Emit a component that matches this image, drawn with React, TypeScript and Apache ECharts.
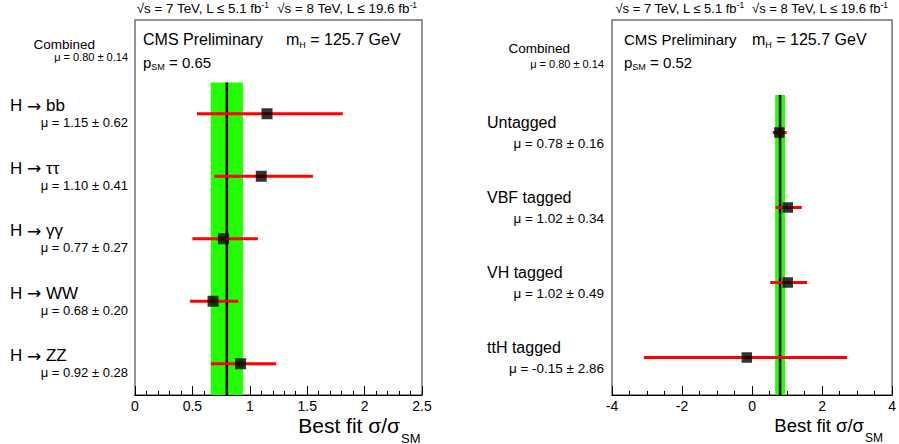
import React, { useEffect, useRef } from "react";
import * as echarts from "echarts";

// ---------- data ----------
const leftCategories = ["H → bb", "H → ττ", "H → γγ", "H → WW", "H → ZZ"];
const leftMu = [1.15, 1.1, 0.77, 0.68, 0.92];
const leftMuErr = [0.62, 0.41, 0.27, 0.2, 0.28];
const leftLow = [0.54, 0.69, 0.5, 0.48, 0.66];
const leftHigh = [1.81, 1.55, 1.07, 0.9, 1.23];
const leftRowY = [4.5, 3.5, 2.5, 1.5, 0.5];

const rightCategories = ["Untagged", "VBF tagged", "VH tagged", "ttH tagged"];
const rightMu = [0.78, 1.02, 1.02, -0.15];
const rightMuErr = [0.16, 0.34, 0.49, 2.86];
const rightLow = [0.59, 0.67, 0.52, -3.09];
const rightHigh = [0.99, 1.42, 1.57, 2.71];
const rightRowY = [3.5, 2.5, 1.5, 0.5];

const combinedMu = 0.8;
const combinedErr = 0.14;
const pSM = ["0.65", "0.52"];
const leftXRange = [0, 2.5, 0.5];
const rightXRange = [-4, 4, 2];

const FONT = "Liberation Sans";
const GREEN = "#22ff00";

const G_LEFT = { left: 135, top: 20, width: 287, height: 375 };
const G_RIGHT = { left: 612, top: 20, width: 286, height: 375 };

function muText(m: number, e: number) {
  return `μ = ${m.toFixed(2)} ± ${e.toFixed(2)}`;
}

function bandSeries(xi: number, top: number) {
  return {
    type: "custom",
    xAxisIndex: xi,
    yAxisIndex: xi,
    silent: true,
    encode: { x: [0, 1], y: [2, 3] },
    data: [[combinedMu - combinedErr, combinedMu + combinedErr, 0, top, combinedMu]],
    renderItem: (params: any, api: any) => {
      const a = api.coord([api.value(0), api.value(3)]);
      const b = api.coord([api.value(1), api.value(2)]);
      const c0 = api.coord([api.value(4), api.value(2)]);
      const c1 = api.coord([api.value(4), api.value(3)]);
      return {
        type: "group",
        children: [
          { type: "rect", shape: { x: a[0], y: a[1], width: b[0] - a[0], height: b[1] - a[1] }, style: { fill: GREEN } },
          { type: "line", shape: { x1: c0[0], y1: c0[1], x2: c1[0], y2: c1[1] }, style: { stroke: "#000", lineWidth: 2.5 } },
        ],
      };
    },
  };
}

function errSeries(xi: number, lo: number[], hi: number[], ys: number[]) {
  return {
    type: "custom",
    xAxisIndex: xi,
    yAxisIndex: xi,
    silent: true,
    encode: { x: [0, 1], y: 2 },
    data: lo.map((l, i) => [l, hi[i], ys[i]]),
    renderItem: (params: any, api: any) => {
      const a = api.coord([api.value(0), api.value(2)]);
      const b = api.coord([api.value(1), api.value(2)]);
      return { type: "line", shape: { x1: a[0], y1: a[1], x2: b[0], y2: b[1] }, style: { stroke: "#ff0000", lineWidth: 3 } };
    },
  };
}

function labelSeries(
  xi: number,
  xmin: number,
  cats: string[],
  mus: number[],
  errs: number[],
  ys: number[],
  combinedY: number,
  cfg: any
) {
  const data: any[] = [[xmin, combinedY, -1]];
  ys.forEach((y, i) => data.push([xmin, y, i]));
  return {
    type: "custom",
    xAxisIndex: xi,
    yAxisIndex: xi,
    silent: true,
    clip: false,
    encode: { x: 0, y: 1 },
    data,
    renderItem: (params: any, api: any) => {
      const p = api.coord([api.value(0), api.value(1)]);
      const idx = api.value(2);
      if (idx < 0) {
        return {
          type: "group",
          children: [
            { type: "text", x: p[0] + cfg.combX, y: p[1] + cfg.combDy, style: { text: "Combined", fontFamily: FONT, fontSize: 13.5, fill: "#000", align: "right", verticalAlign: "middle" } },
            { type: "text", x: p[0] + cfg.muX, y: p[1] + cfg.combMuDy, style: { text: muText(combinedMu, combinedErr), fontFamily: FONT, fontSize: 11, fill: "#000", align: "right", verticalAlign: "middle" } },
          ],
        };
      }
      const catText = cats[idx].replace("→", "{a|→}");
      return {
        type: "group",
        children: [
          {
            type: "text",
            x: p[0] + cfg.catX,
            y: p[1] + cfg.catDy,
            style: {
              text: catText,
              fontFamily: FONT,
              fontSize: cfg.catSize,
              fill: "#000",
              align: "left",
              verticalAlign: "middle",
              rich: { a: { fontFamily: "DejaVu Sans", fontSize: cfg.catSize, fill: "#000" } },
            },
          },
          { type: "text", x: p[0] + cfg.muX, y: p[1] + cfg.muDy, style: { text: muText(mus[idx], errs[idx]), fontFamily: FONT, fontSize: cfg.muSize, fill: "#000", align: "right", verticalAlign: "middle" } },
        ],
      };
    },
  };
}

function xAxisCfg(gi: number, r: number[], minorSplit: number) {
  return {
    gridIndex: gi,
    type: "value",
    min: r[0],
    max: r[1],
    interval: r[2],
    axisLine: { show: true, onZero: false, lineStyle: { color: "#000", width: 1 } },
    axisTick: { show: true, inside: true, length: 9, lineStyle: { color: "#000", width: 1 } },
    minorTick: { show: true, splitNumber: minorSplit, length: 4, lineStyle: { color: "#000", width: 1 } },
    splitLine: { show: false },
    minorSplitLine: { show: false },
    axisLabel: { fontSize: 14, lineHeight: 12, color: "#000", margin: 5, fontFamily: FONT, showMaxLabel: true, showMinLabel: true },
  };
}

const subRich = (size: number) => ({
  n: { fontSize: size, fontFamily: FONT, fill: "#000", lineHeight: size + 4 },
  s: { fontSize: 9, fontFamily: FONT, fill: "#000", lineHeight: 9, verticalAlign: "bottom" },
});

function headerGraphics(gl: any, cmsSize: number, mX: number, pVal: string, topRight: number, topSize: number) {
  const x0 = gl.left;
  return [
    {
      type: "text",
      x: topRight,
      y: 8,
      style: {
        text: "{n|√s = 7 TeV, L ≤ 5.1 fb}{s|-1}{n|  √s = 8 TeV, L ≤ 19.6 fb}{s|-1}",
        rich: {
          n: { fontSize: topSize, fontFamily: FONT, fill: "#000", lineHeight: 15 },
          s: { fontSize: 8.5, fontFamily: FONT, fill: "#000", lineHeight: 9, verticalAlign: "top" },
        },
        align: "right",
        verticalAlign: "middle",
      },
    },
    { type: "text", x: x0 + (cmsSize === 16 ? 8 : 12), y: 39, style: { text: "CMS Preliminary", fontFamily: FONT, fontSize: cmsSize, fill: "#000", align: "left", verticalAlign: "middle" } },
    { type: "text", x: x0 + mX, y: 39, style: { text: "{n|m}{s|H}{n| = 125.7 GeV}", rich: subRich(16), align: "left", verticalAlign: "middle" } },
    { type: "text", x: x0 + (cmsSize === 16 ? 8 : 12), y: 62, style: { text: `{n|p}{s|SM}{n| = ${pVal}}`, rich: subRich(15), align: "left", verticalAlign: "middle" } },
  ];
}

function titleGraphics(endX: number, size: number, subSize: number) {
  return [
    { type: "text", x: endX, y: 425.5, style: { text: "Best fit σ/σ", fontFamily: FONT, fontSize: size, lineHeight: 13, fill: "#000", align: "right", verticalAlign: "middle" } },
    { type: "text", x: endX + 1, y: 438, style: { text: "SM", fontFamily: FONT, fontSize: subSize, lineHeight: 10, fill: "#000", align: "left", verticalAlign: "middle" } },
  ];
}

export default function App() {
  const ref = useRef<HTMLDivElement>(null);
  useEffect(() => {
    if (!ref.current) return;
    const chart = echarts.init(ref.current, null, { renderer: "svg" });
    const option: any = {
      animation: false,
      backgroundColor: "#fff",
      grid: [
        { ...G_LEFT, show: true, borderColor: "#707070", borderWidth: 1.5, backgroundColor: "transparent", containLabel: false },
        { ...G_RIGHT, show: true, borderColor: "#707070", borderWidth: 1.5, backgroundColor: "transparent", containLabel: false },
      ],
      xAxis: [xAxisCfg(0, leftXRange, 5), xAxisCfg(1, rightXRange, 4)],
      yAxis: [
        { gridIndex: 0, type: "value", min: 0, max: 6, show: false },
        { gridIndex: 1, type: "value", min: 0, max: 5, show: false },
      ],
      series: [
        bandSeries(0, 5),
        bandSeries(1, 4),
        errSeries(0, leftLow, leftHigh, leftRowY),
        errSeries(1, rightLow, rightHigh, rightRowY),
        {
          type: "scatter",
          xAxisIndex: 0,
          yAxisIndex: 0,
          symbol: "rect",
          symbolSize: 11,
          itemStyle: { color: "#000" },
          data: leftMu.map((m, i) => [m, leftRowY[i]]),
        },
        {
          type: "scatter",
          xAxisIndex: 1,
          yAxisIndex: 1,
          symbol: "rect",
          symbolSize: 10.5,
          itemStyle: { color: "#000" },
          data: rightMu.map((m, i) => [m, rightRowY[i]]),
        },
        labelSeries(0, leftXRange[0], leftCategories, leftMu, leftMuErr, leftRowY, 5.5, {
          catX: -125, catDy: -8, catSize: 17, muX: -7, muDy: 9, muSize: 13, combX: -40, combDy: -7, combMuDy: 6,
        }),
        labelSeries(1, rightXRange[0], rightCategories, rightMu, rightMuErr, rightRowY, 4.5, {
          catX: -125, catDy: -10, catSize: 16, muX: -8, muDy: 11, muSize: 13.5, combX: -42, combDy: -9.5, combMuDy: 6.5,
        }),
      ],
      graphic: [
        ...headerGraphics(G_LEFT, 16, 151, pSM[0], 417, 13.4),
        ...headerGraphics(G_RIGHT, 15, 140, pSM[1], 888, 13),
        ...titleGraphics(400, 21, 13),
        ...titleGraphics(864, 18.5, 12),
      ],
    };
    chart.setOption(option);
    return () => chart.dispose();
  }, []);
  return <div ref={ref} style={{ position: "absolute", left: 0, top: 0, width: 899, height: 444 }} />;
}
